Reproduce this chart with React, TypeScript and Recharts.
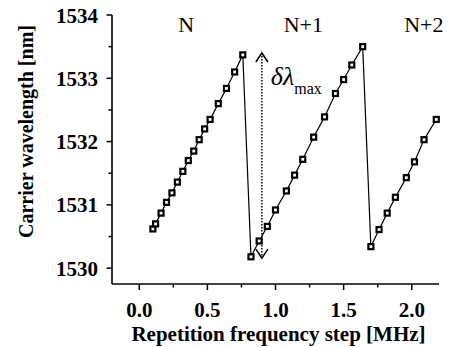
import { ScatterChart, Scatter, XAxis, YAxis, ReferenceDot, Label } from 'recharts';

// repetition frequency step [MHz] and carrier wavelength [nm]
const stepMHz = [
  0.1, 0.12, 0.16, 0.2, 0.24, 0.28, 0.32, 0.36, 0.4, 0.44, 0.48, 0.52, 0.58, 0.64, 0.7, 0.76,
  0.82, 0.88, 0.94, 1.0, 1.08, 1.14, 1.2, 1.28, 1.36, 1.44, 1.5, 1.56, 1.64,
  1.7, 1.76, 1.82, 1.88, 1.96, 2.02, 2.09, 2.18,
];
const wavelengthNm = [
  1530.62, 1530.7, 1530.87, 1531.04, 1531.19, 1531.36, 1531.53, 1531.7, 1531.85, 1532.03, 1532.2, 1532.35, 1532.6, 1532.84, 1533.1, 1533.37,
  1530.18, 1530.43, 1530.66, 1530.92, 1531.22, 1531.47, 1531.72, 1532.07, 1532.39, 1532.76, 1532.98, 1533.21, 1533.5,
  1530.34, 1530.61, 1530.87, 1531.12, 1531.43, 1531.68, 1532.03, 1532.35,
];

// dotted arrow marking the maximum tuning range
const arrowX = [0.9, 0.9];
const arrowY = [1533.4, 1530.16];
const arrowDir = ['up', 'down'];

// mode number labels
const modeLabels = ['N', 'N+1', 'N+2'];
const modeLabelX = [0.344, 1.204, 2.089];
const modeLabelY = 1533.73;

const xTicks = [0, 0.25, 0.5, 0.75, 1, 1.25, 1.5, 1.75, 2];
const yTicks = [1530, 1530.5, 1531, 1531.5, 1532, 1532.5, 1533, 1533.5, 1534];

const points = stepMHz.map((x, i) => ({ x, y: wavelengthNm[i] }));
const arrow = arrowX.map((x, i) => ({ x, y: arrowY[i], dir: arrowDir[i] }));

const FONT = '"Liberation Serif", "Times New Roman", serif';

const Square = (props: any) => {
  const { cx, cy } = props;
  if (cx == null || cy == null) return null;
  const s = 5;
  return <rect x={cx - s / 2} y={cy - s / 2} width={s} height={s} fill="#fff" stroke="#000" strokeWidth={2.2} />;
};

const ArrowHead = (props: any) => {
  const { cx, cy, payload } = props;
  if (cx == null || cy == null) return null;
  const d = payload.dir === 'up' ? 1 : -1;
  return (
    <polyline
      points={`${cx - 6},${cy + 9 * d} ${cx},${cy} ${cx + 6},${cy + 9 * d}`}
      fill="none"
      stroke="#000"
      strokeWidth={1.5}
    />
  );
};

const XTick = (props: any) => {
  const { x, y, payload } = props;
  const v = payload.value;
  const major = Math.abs(v * 2 - Math.round(v * 2)) < 1e-6;
  return (
    <g>
      <line x1={x} x2={x} y1={y} y2={y + (major ? 6 : 3.5)} stroke="#000" strokeWidth={1.5} />
      {major && (
        <text x={x} y={y + 33} textAnchor="middle" fontFamily={FONT} fontWeight="bold" fontSize={21} fill="#000">
          {v.toFixed(1)}
        </text>
      )}
    </g>
  );
};

const YTick = (props: any) => {
  const { x, y, payload } = props;
  const v = payload.value;
  const major = Number.isInteger(v);
  return (
    <g>
      <line x1={x - (major ? 5.5 : 3.5)} x2={x} y1={y} y2={y} stroke="#000" strokeWidth={1.5} />
      {major && (
        <text x={x - 14} y={y + 7.5} textAnchor="end" fontFamily={FONT} fontWeight="bold" fontSize={21} fill="#000">
          {v}
        </text>
      )}
    </g>
  );
};

const XTitle = (props: any) => {
  const vb = props.viewBox || { x: 112, y: 284, width: 327, height: 63 };
  return (
    <text x={vb.x + vb.width / 2 + 3} y={vb.y + 57} textAnchor="middle" fontFamily={FONT} fontWeight="bold" fontSize={21} fill="#000">
      Repetition frequency step [MHz]
    </text>
  );
};

const YTitle = (props: any) => {
  const vb = props.viewBox || { x: 0, y: 15, width: 112, height: 269 };
  const cx = vb.x + 33;
  const cy = vb.y + vb.height / 2 - 18;
  return (
    <text x={cx} y={cy} transform={`rotate(-90 ${cx} ${cy})`} textAnchor="middle" fontFamily={FONT} fontWeight="bold" fontSize={20} fill="#000">
      Carrier wavelength [nm]
    </text>
  );
};

const ModeText = (text: string) => (props: any) => {
  const { cx, cy } = props;
  return (
    <text x={cx} y={cy} textAnchor="middle" fontFamily={FONT} fontSize={22} fill="#000">
      {text}
    </text>
  );
};

const DeltaLambda = (props: any) => {
  const { cx, cy } = props;
  return (
    <text x={cx} y={cy} fontFamily={FONT} fill="#000">
      <tspan fontStyle="italic" fontSize={26}>δλ</tspan>
      <tspan fontSize={16} dy={9}>max</tspan>
    </text>
  );
};

export default function App() {
  return (
    <div style={{ position: 'absolute', left: 0, top: 0, background: '#fff' }}>
      <ScatterChart width={455} height={347} margin={{ top: 15, right: 16, left: 0, bottom: 0 }}>
        <XAxis
          type="number"
          dataKey="x"
          domain={[-0.2, 2.2]}
          ticks={xTicks}
          interval={0}
          height={63}
          tickSize={0}
          tickMargin={0}
          tick={<XTick />}
          axisLine={{ stroke: '#000', strokeWidth: 1.6 }}
        >
          <Label content={<XTitle />} />
        </XAxis>
        <YAxis
          type="number"
          dataKey="y"
          domain={[1529.75, 1534]}
          ticks={yTicks}
          interval={0}
          width={112}
          tickSize={0}
          tickMargin={0}
          tick={<YTick />}
          axisLine={{ stroke: '#000', strokeWidth: 1.6 }}
        >
          <Label content={<YTitle />} />
        </YAxis>
        <Scatter
          data={arrow}
          fill="#000"
          line={{ strokeWidth: 1.5, strokeDasharray: '1.5 1.5' }}
          shape={<ArrowHead />}
          isAnimationActive={false}
        />
        <Scatter
          data={points}
          fill="#000"
          line={{ strokeWidth: 1.2 }}
          shape={<Square />}
          isAnimationActive={false}
        />
        {modeLabels.map((t, i) => (
          <ReferenceDot key={t} x={modeLabelX[i]} y={modeLabelY} r={0} ifOverflow="visible" shape={ModeText(t)} />
        ))}
        <ReferenceDot x={0.966} y={1532.9} r={0} ifOverflow="visible" shape={<DeltaLambda />} />
      </ScatterChart>
    </div>
  );
}
